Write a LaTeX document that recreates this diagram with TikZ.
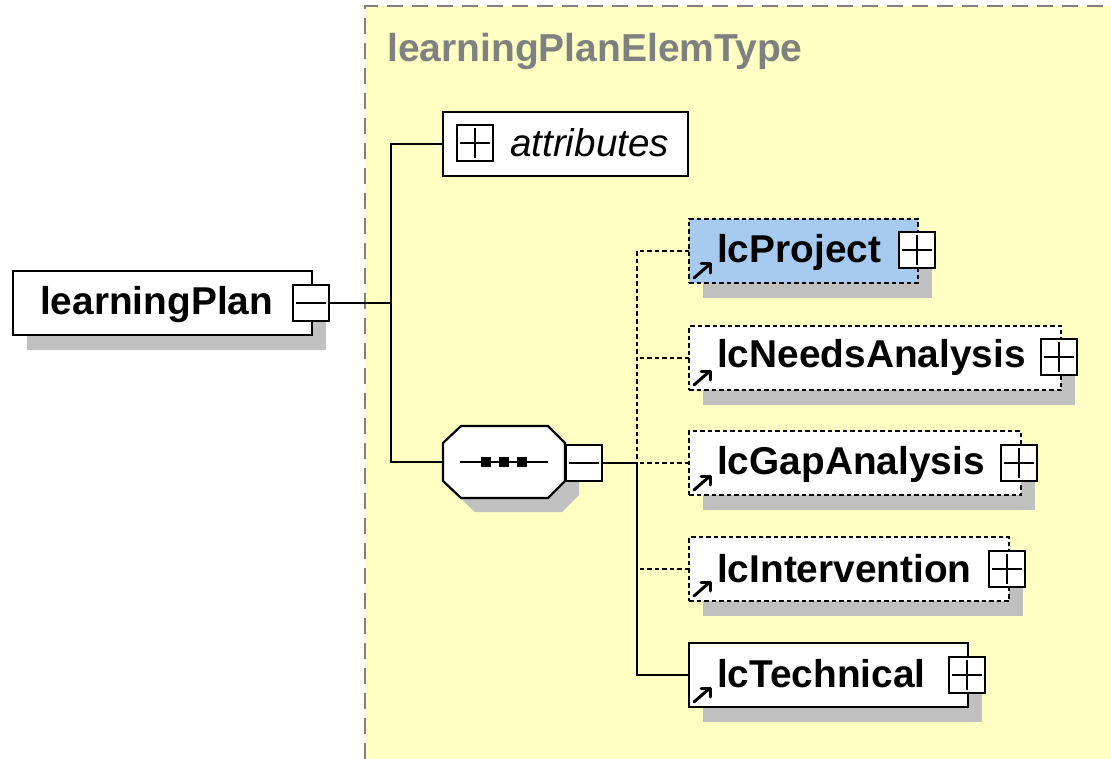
\documentclass[tikz,border=0pt]{standalone}
\usepackage{fontspec}
\setmainfont{Liberation Sans}
\usetikzlibrary{calc,arrows.meta}
\definecolor{yel}{HTML}{FFFFC4}
\definecolor{blu}{HTML}{A6CAF0}
\definecolor{shd}{HTML}{C0C0C0}
\definecolor{ttl}{HTML}{808080}
\begin{document}
\begin{tikzpicture}[x=1pt,y=-1pt,
  elbox/.style={draw=black, fill=white, line width=2.2pt, inner sep=0pt, outer sep=0pt, anchor=north west},
  optbox/.style={elbox, dash pattern=on 4.5pt off 3pt},
  lbl/.style={anchor=base west, inner sep=0pt, font=\fontsize{38.8}{40}\selectfont\bfseries},
  pmbox/.style={draw=black, fill=white, line width=2pt, inner sep=0pt, outer sep=0pt, anchor=north west, minimum width=36pt, minimum height=36pt},
  plusbox/.style={pmbox, path picture={
     \draw[line width=2pt] ([xshift=3pt]path picture bounding box.west) -- ([xshift=-3pt]path picture bounding box.east);
     \draw[line width=2pt] ([yshift=-3pt]path picture bounding box.north) -- ([yshift=3pt]path picture bounding box.south);}},
  minusbox/.style={pmbox, path picture={
     \draw[line width=2pt] ([xshift=3pt]path picture bounding box.west) -- ([xshift=-3pt]path picture bounding box.east);}},
  conn/.style={draw=black, line width=2.2pt},
  dconn/.style={conn, dash pattern=on 4.5pt off 3pt},
  refarrow/.style={line width=3pt, line cap=round, line join=round},
  shadow/.style={fill=shd}
]
\useasboundingbox (0,0) rectangle (1111,759);
% type region
\fill[yel] (365,6) rectangle (1111,759);
\draw[ttl, line width=1.8pt, dash pattern=on 16pt off 9pt] (365,759) -- (365,6) -- (1111,6);
\node[anchor=base west, inner sep=0pt, text=ttl, font=\fontsize{39}{40}\selectfont\bfseries] (title) at (387,62) {learningPlanElemType};

% root element
\fill[shadow] (27,285) rectangle (326,350);
\node[elbox, minimum width=299pt, minimum height=64pt] (lp) at (13,271) {};
\node[lbl] (lpt) at (40,315) {learningPlan};
\node[minusbox] (lppm) at (293,285) {};

% attributes
\node[elbox, minimum width=245pt, minimum height=64pt] (attr) at (443,112) {};
\node[plusbox] (attrpm) at (457,125) {};
\node[anchor=base west, inner sep=0pt, font=\fontsize{38.6}{40}\selectfont\itshape] (attrt) at (510,157) {attributes};

% sequence compositor
\node[inner sep=0pt, outer sep=0pt, anchor=north west, minimum width=122pt, minimum height=72pt] (seq) at (443,426) {};
\fill[shadow] ($(seq.north west)+(32,14)$) -- ($(seq.north east)+(-3,14)$) -- ($(seq.north east)+(14,31)$) -- ($(seq.south east)+(14,-3)$) -- ($(seq.south east)+(-3,14)$) -- ($(seq.south west)+(32,14)$) -- ($(seq.south west)+(14,-3)$) -- ($(seq.north west)+(14,31)$) -- cycle;
\draw[fill=white, line width=2.2pt] ($(seq.north west)+(18,0)$) -- ($(seq.north east)+(-17,0)$) -- ($(seq.north east)+(0,17)$) -- ($(seq.south east)+(0,-17)$) -- ($(seq.south east)+(-17,0)$) -- ($(seq.south west)+(18,0)$) -- ($(seq.south west)+(0,-17)$) -- ($(seq.north west)+(0,17)$) -- cycle;
\draw[line width=2pt] ($(seq.center)+(-44,0)$) -- ($(seq.center)+(44,0)$);
\fill ($(seq.center)+(-23,-5)$) rectangle ($(seq.center)+(-13,5)$);
\fill ($(seq.center)+(-5,-5)$) rectangle ($(seq.center)+(5,5)$);
\fill ($(seq.center)+(13,-5)$) rectangle ($(seq.center)+(23,5)$);
\node[minusbox] (seqpm) at (566,445) {};

% children
\fill[shadow] (703,234) rectangle (932,298);
\node[optbox, fill=blu, minimum width=229pt, minimum height=64pt] (proj) at (689,219) {};
\node[lbl] (projt) at (717,263) {lcProject};
\node[plusbox] (projpm) at (899,232) {};

\fill[shadow] (703,341) rectangle (1075,405);
\node[optbox, minimum width=372pt, minimum height=64pt] (needs) at (689,326) {};
\node[lbl] (needst) at (717,367) {lcNeedsAnalysis};
\node[plusbox] (needspm) at (1041,339) {};

\fill[shadow] (703,446) rectangle (1035,510);
\node[optbox, minimum width=332pt, minimum height=64pt] (gap) at (689,431) {};
\node[lbl] (gapt) at (717,474) {lcGapAnalysis};
\node[plusbox] (gappm) at (1001,445) {};

\fill[shadow] (703,552) rectangle (1023,616);
\node[optbox, minimum width=320pt, minimum height=64pt] (interv) at (689,537) {};
\node[lbl] (intervt) at (717,582) {lcIntervention};
\node[plusbox] (intervpm) at (989,551) {};

\fill[shadow] (703,658) rectangle (982,722);
\node[elbox, minimum width=279pt, minimum height=64pt] (tech) at (689,643) {};
\node[lbl] (techt) at (717,687) {lcTechnical};
\node[plusbox] (techpm) at (949,657) {};

% reference arrows
\foreach \n in {proj,needs,gap,interv,tech}{
  \draw[refarrow] ($(\n.south west)+(5,-5)$) -- ($(\n.south west)+(21,-19)$);
  \draw[refarrow] ($(\n.south west)+(12,-19)$) -- ($(\n.south west)+(21,-19)$) -- ($(\n.south west)+(21,-10)$);
}

% connectors
\coordinate (j1) at (391,303);
\coordinate (j2) at (637,463);
\draw[conn] (lppm.east) -- (j1);
\draw[conn] (attr.west) -| (j1);
\draw[conn] (seq.west) -| (j1);
\draw[conn] (seqpm.east) -- (j2);
\draw[dconn] (proj.west) -| (j2);
\draw[dconn] (needs.west) -- (needs.west -| j2);
\draw[dconn] (gap.west) -- (j2);
\draw[dconn] (interv.west) -- (interv.west -| j2);
\draw[conn] (j2) |- (tech.west);
\end{tikzpicture}
\end{document}
